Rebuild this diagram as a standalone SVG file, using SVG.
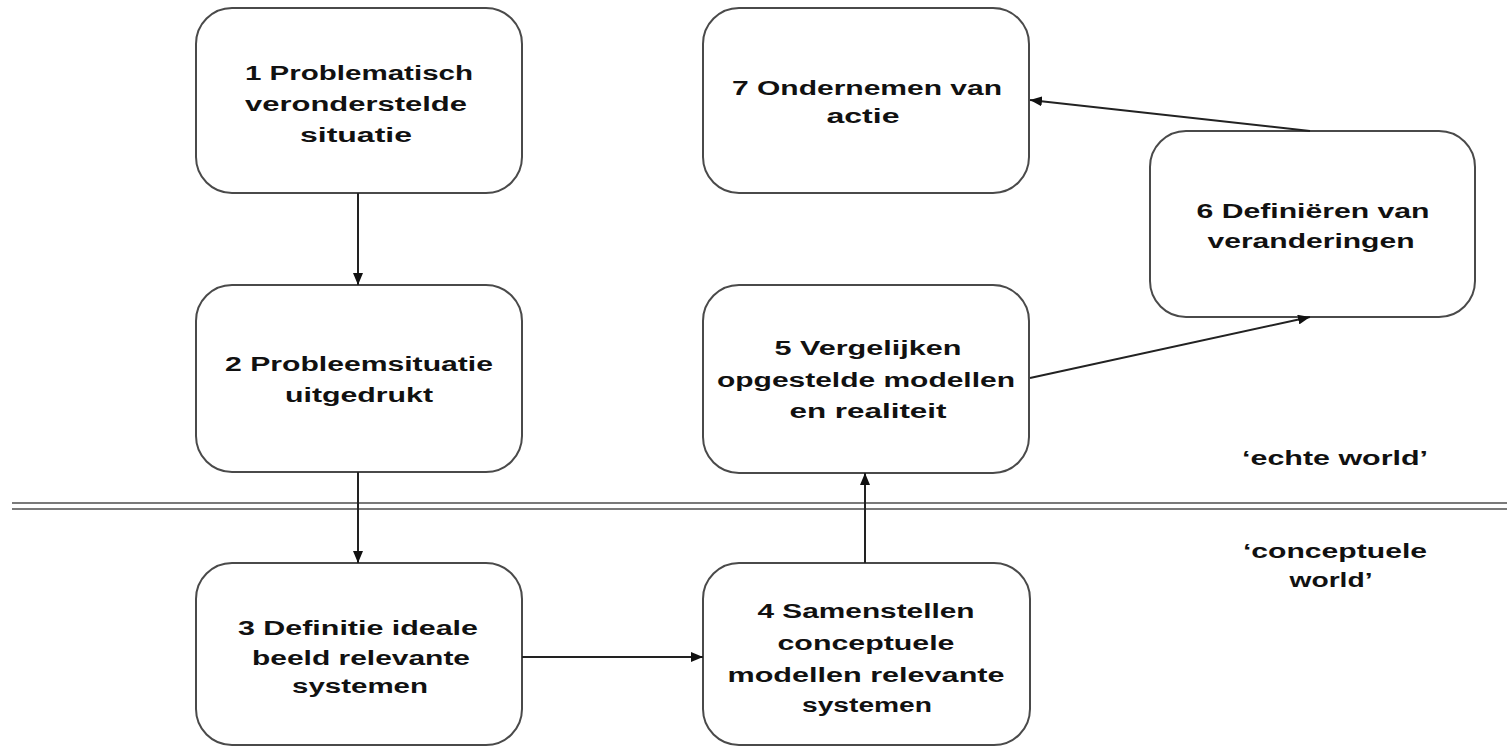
<svg xmlns="http://www.w3.org/2000/svg" width="1507" height="747" viewBox="0 0 1507 747">
<style>
.box{fill:#fff;stroke:#4a4a4a;stroke-width:2}
.t{font-family:"Liberation Sans",Arial,sans-serif;font-weight:bold;font-size:20px;fill:#111;text-anchor:middle}
.c{stroke:#222;stroke-width:2;fill:none}
.sep{stroke:#7a7a7a;stroke-width:2.2}
</style>
<defs>
<marker id="ah" viewBox="0 0 12 10" refX="12" refY="5" markerWidth="12" markerHeight="10" markerUnits="userSpaceOnUse" orient="auto">
<path d="M0,0 L12,5 L0,10 Z" fill="#111"/>
</marker>
</defs>
<rect width="1507" height="747" fill="#fff"/>
<g id="separator">
<line class="sep" x1="12" y1="503" x2="1507" y2="503"/>
<line class="sep" x1="12" y1="509" x2="1507" y2="509"/>
</g>
<g id="n1">
<rect class="box" x="196" y="8" width="326" height="185" rx="36"/>
<text class="t" x="359" y="80" textLength="228" lengthAdjust="spacingAndGlyphs">1 Problematisch</text>
<text class="t" x="356" y="111" textLength="222" lengthAdjust="spacingAndGlyphs">veronderstelde</text>
<text class="t" x="356" y="142" textLength="112" lengthAdjust="spacingAndGlyphs">situatie</text>
</g>
<g id="n2">
<rect class="box" x="196" y="285" width="326" height="187" rx="36"/>
<text class="t" x="359" y="371" textLength="268" lengthAdjust="spacingAndGlyphs">2 Probleemsituatie</text>
<text class="t" x="359" y="402" textLength="148" lengthAdjust="spacingAndGlyphs">uitgedrukt</text>
</g>
<g id="n3">
<rect class="box" x="196" y="563" width="326" height="182" rx="36"/>
<text class="t" x="358" y="635" textLength="240" lengthAdjust="spacingAndGlyphs">3 Definitie ideale</text>
<text class="t" x="361" y="665" textLength="218" lengthAdjust="spacingAndGlyphs">beeld relevante</text>
<text class="t" x="360" y="693" textLength="136" lengthAdjust="spacingAndGlyphs">systemen</text>
</g>
<g id="n4">
<rect class="box" x="703" y="563" width="327" height="182" rx="36"/>
<text class="t" x="866" y="618" textLength="217" lengthAdjust="spacingAndGlyphs">4 Samenstellen</text>
<text class="t" x="866" y="650" textLength="177" lengthAdjust="spacingAndGlyphs">conceptuele</text>
<text class="t" x="866" y="682" textLength="277" lengthAdjust="spacingAndGlyphs">modellen relevante</text>
<text class="t" x="867" y="712" textLength="130" lengthAdjust="spacingAndGlyphs">systemen</text>
</g>
<g id="n5">
<rect class="box" x="703" y="285" width="326" height="188" rx="36"/>
<text class="t" x="868" y="355" textLength="187" lengthAdjust="spacingAndGlyphs">5 Vergelijken</text>
<text class="t" x="866" y="387" textLength="298" lengthAdjust="spacingAndGlyphs">opgestelde modellen</text>
<text class="t" x="868" y="418" textLength="157" lengthAdjust="spacingAndGlyphs">en realiteit</text>
</g>
<g id="n6">
<rect class="box" x="1150" y="131" width="325" height="186" rx="36"/>
<text class="t" x="1313" y="218" textLength="233" lengthAdjust="spacingAndGlyphs">6 Definiëren van</text>
<text class="t" x="1311" y="248" textLength="207" lengthAdjust="spacingAndGlyphs">veranderingen</text>
</g>
<g id="n7">
<rect class="box" x="703" y="8" width="326" height="185" rx="36"/>
<text class="t" x="867" y="95" textLength="270" lengthAdjust="spacingAndGlyphs">7 Ondernemen van</text>
<text class="t" x="863" y="123" textLength="73" lengthAdjust="spacingAndGlyphs">actie</text>
</g>
<g id="labels">
<text class="t" x="1335" y="465" textLength="186" lengthAdjust="spacingAndGlyphs">‘echte world’</text>
<text class="t" x="1335" y="558" textLength="184" lengthAdjust="spacingAndGlyphs">‘conceptuele</text>
<text class="t" x="1331" y="587" textLength="83" lengthAdjust="spacingAndGlyphs">world’</text>
</g>
<g id="connectors">
<line class="c" x1="358" y1="193" x2="358" y2="285" marker-end="url(#ah)"/>
<line class="c" x1="358" y1="472" x2="358" y2="563" marker-end="url(#ah)"/>
<line class="c" x1="522" y1="657" x2="703" y2="657" marker-end="url(#ah)"/>
<line class="c" x1="865" y1="563" x2="865" y2="473" marker-end="url(#ah)"/>
<line class="c" x1="1030" y1="378" x2="1310" y2="317" marker-end="url(#ah)"/>
<line class="c" x1="1310" y1="131" x2="1030" y2="100" marker-end="url(#ah)"/>
</g>
</svg>
